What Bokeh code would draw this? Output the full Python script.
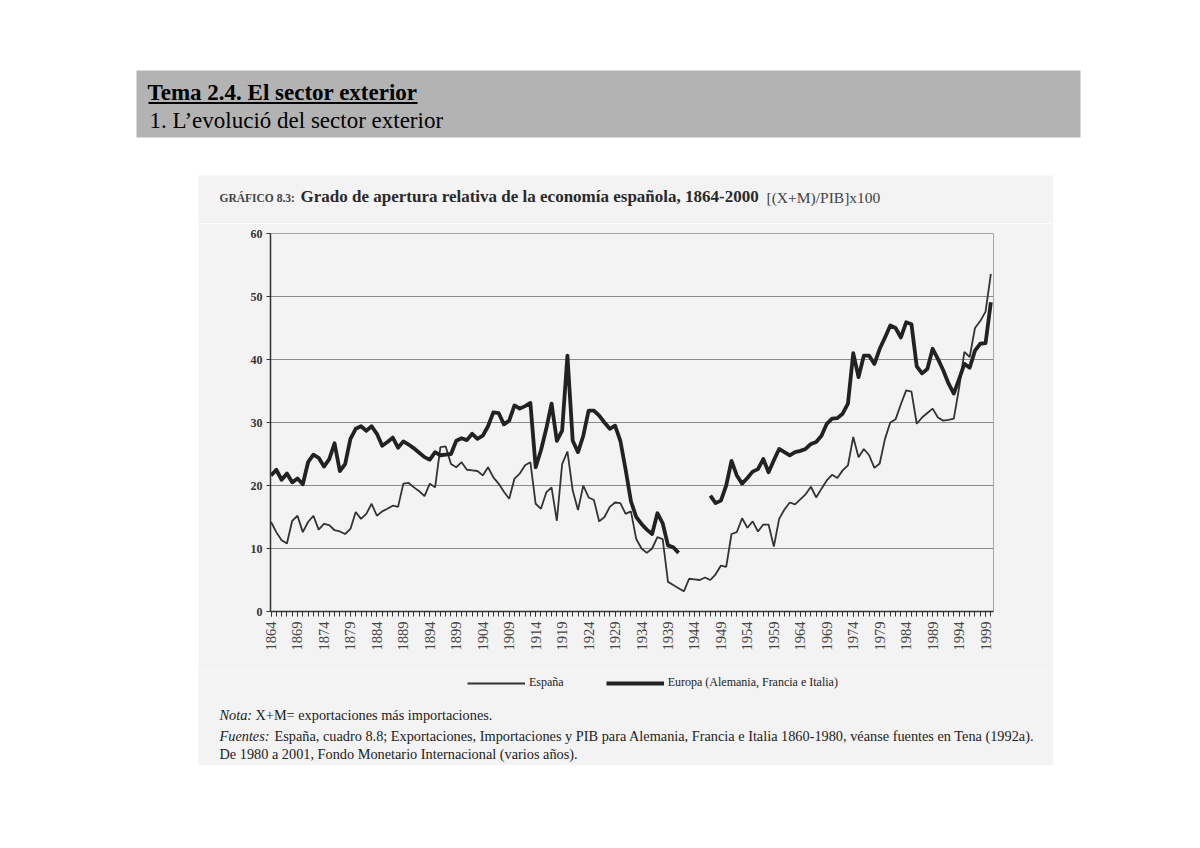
import math
from bokeh.plotting import figure
from bokeh.layouts import column, row
from bokeh.models import (Range1d, FixedTicker, Label, BoxAnnotation, Legend,
                          LegendItem, ColumnDataSource, Spacer)
from bokeh.embed import file_html
from bokeh.resources import INLINE

# ---------------- data ----------------
years = list(range(1864, 2001))

espana = [
    14.2, 12.6, 11.3, 10.8, 14.4, 15.2, 12.6, 14.2, 15.2, 13.0,   # 1864-1873
    13.9, 13.7, 12.9, 12.7, 12.3, 13.1, 15.8, 14.7, 15.5, 17.1,   # 1874-1883
    15.2, 15.9, 16.3, 16.8, 16.6, 20.3, 20.4, 19.7, 19.1, 18.3,   # 1884-1893
    20.3, 19.7, 26.1, 26.2, 23.4, 22.9, 23.7, 22.5, 22.4, 22.3,   # 1894-1903
    21.6, 22.9, 21.3, 20.3, 19.0, 17.9, 21.1, 21.9, 23.2, 23.7,   # 1904-1913
    17.1, 16.3, 18.9, 19.7, 14.4, 23.4, 25.4, 19.2, 16.1, 20.0,   # 1914-1923
    18.1, 17.7, 14.3, 15.0, 16.6, 17.3, 17.2, 15.5, 15.9, 11.5,   # 1924-1933
    10.0, 9.3, 10.0, 11.8, 11.5, 4.7, 4.2, 3.7, 3.2, 5.2,         # 1934-1943
    5.1, 5.0, 5.4, 5.0, 5.9, 7.3, 7.1, 12.3, 12.6, 14.8,          # 1944-1953
    13.3, 14.3, 12.7, 13.8, 13.8, 10.3, 14.7, 16.2, 17.3, 17.0,   # 1954-1963
    17.8, 18.6, 19.8, 18.1, 19.5, 20.8, 21.7, 21.2, 22.4, 23.2,   # 1964-1973
    27.7, 24.5, 25.8, 24.8, 22.8, 23.5, 27.4, 30.0, 30.5, 32.9,   # 1974-1983
    35.1, 34.9, 29.8, 30.8, 31.5, 32.2, 30.8, 30.3, 30.4, 30.6,   # 1984-1993
    35.5, 41.2, 40.4, 45.0, 46.1, 47.6, 53.6,                     # 1994-2000
]

nan = float("nan")
europa = [
    21.6, 22.5, 20.9, 21.9, 20.5, 21.1, 20.2, 23.7, 24.9, 24.4,   # 1864-1873
    23.0, 24.2, 26.7, 22.3, 23.4, 27.4, 29.0, 29.4, 28.7, 29.4,   # 1874-1883
    28.2, 26.3, 26.9, 27.6, 26.0, 27.0, 26.5, 25.9, 25.2, 24.5,   # 1884-1893
    24.1, 25.3, 24.8, 24.9, 25.0, 27.1, 27.5, 27.2, 28.2, 27.4,   # 1894-1903
    27.9, 29.4, 31.6, 31.5, 29.7, 30.3, 32.7, 32.2, 32.6, 33.1,   # 1904-1913
    22.9, 25.6, 29.0, 33.0, 27.1, 28.7, 40.6, 27.1, 25.3, 27.9,   # 1914-1923
    31.9, 31.9, 31.1, 30.0, 29.0, 29.5, 27.1, 22.5, 17.5, 15.0,   # 1924-1933
    13.9, 13.0, 12.3, 15.6, 14.0, 10.5, 10.2, 9.3, nan, nan,      # 1934-1943
    nan, nan, nan, 18.4, 17.2, 17.6, 20.0, 23.9, 21.6, 20.3,      # 1944-1953
    21.2, 22.2, 22.6, 24.2, 22.1, 24.0, 25.8, 25.3, 24.8, 25.3,   # 1954-1963
    25.5, 25.8, 26.6, 26.9, 27.9, 29.8, 30.6, 30.7, 31.4, 33.0,   # 1964-1973
    41.0, 37.2, 40.6, 40.6, 39.3, 41.7, 43.5, 45.4, 45.0, 43.5,   # 1974-1983
    45.9, 45.6, 38.9, 37.8, 38.5, 41.7, 40.1, 38.3, 36.2, 34.6,   # 1984-1993
    36.9, 39.3, 38.7, 41.4, 42.5, 42.6, 49.1,                     # 1994-2000
]

tick_years = list(range(1864, 2000, 5))
y_ticks = [0, 10, 20, 30, 40, 50, 60]
series_names = ["España", "Europa (Alemania, Francia e Italia)"]

SERIF = "Liberation Serif"
GRAY_BG = "#f3f3f3"
PAGE_W = 1184
SCAN_L, SCAN_R = 198, 1053          # scanned chart region (page px)
SCAN_W = SCAN_R - SCAN_L
STYLE_ES = dict(line_color="#333333", line_width=1.8)
STYLE_EU = dict(line_color="#222222", line_width=3.8, line_join="round")


def text_fig(x0, x1, y0, y1, bg):
    """A figure whose frame covers the whole canvas, in page pixel units (y down)."""
    f = figure(width=x1 - x0, height=y1 - y0,
               x_range=Range1d(x0, x1), y_range=Range1d(y1, y0),
               x_axis_location=None, y_axis_location=None,
               output_backend="svg", toolbar_location=None,
               min_border_left=0, min_border_right=0,
               min_border_top=0, min_border_bottom=0,
               background_fill_color=bg, border_fill_color=bg,
               outline_line_color=None)
    f.xgrid.visible = False
    f.ygrid.visible = False
    return f


def txt(f, x, y, s, size, style="normal", color="#222222"):
    f.add_layout(Label(x=x, y=y, text=s, text_font=SERIF, text_font_size=size,
                       text_font_style=style, text_color=color,
                       text_baseline="middle", text_align="left"))


# ---------------- header ----------------
head = text_fig(0, PAGE_W, 0, 175, "white")
head.add_layout(BoxAnnotation(left=136, right=1080, top=70, bottom=137,
                              fill_color="#b3b3b3", fill_alpha=1.0,
                              line_alpha=0, level="underlay"))
head.add_layout(BoxAnnotation(left=148, right=417, top=101.5, bottom=103.5,
                              fill_color="#000000", fill_alpha=1.0,
                              line_alpha=0, level="underlay"))
txt(head, 147, 92, "Tema 2.4. El sector exterior", "23px", "bold", "#000000")
txt(head, 149, 120, "1. L\u2019evolució del sector exterior", "23px", "normal", "#000000")

# ---------------- chart title ----------------
TT_TOP, TT_BOT = 175, 223
ttl = text_fig(SCAN_L, SCAN_R, TT_TOP, TT_BOT, GRAY_BG)
txt(ttl, 219, 197, "GRÁFICO 8.3:", "11.5px", "bold", "#444444")
txt(ttl, 300, 196, "Grado de apertura relativa de la economía española, 1864-2000", "17px", "bold", "#2a2a2a")
txt(ttl, 766, 197, "[(X+M)/PIB]x100", "15.5px", "normal", "#444444")

# ---------------- chart ----------------
CH_TOP, CH_BOT = TT_BOT, 670
p = figure(width=SCAN_W, height=CH_BOT - CH_TOP,
           x_range=Range1d(1863.9, 2000.5), y_range=Range1d(0, 60),
           output_backend="svg", toolbar_location=None,
           min_border_left=270 - SCAN_L, min_border_right=SCAN_R - 993,
           min_border_top=233 - CH_TOP, min_border_bottom=CH_BOT - 611,
           background_fill_color=GRAY_BG, border_fill_color=GRAY_BG,
           outline_line_color="#a8a8a8", outline_line_width=1)

src = ColumnDataSource(dict(year=years, espana=espana, europa=europa))
r_es = p.line("year", "espana", source=src, **STYLE_ES)
r_eu = p.line("year", "europa", source=src, **STYLE_EU)

p.yaxis.ticker = FixedTicker(ticks=y_ticks)
p.yaxis.major_label_text_font = SERIF
p.yaxis.major_label_text_font_style = "bold"
p.yaxis.major_label_text_font_size = "12px"
p.yaxis.major_label_text_color = "#333333"
p.yaxis.major_tick_out = 4
p.yaxis.major_tick_in = 0
p.yaxis.minor_tick_out = 0
p.yaxis.minor_tick_in = 0
p.yaxis.axis_line_color = "#333333"
p.yaxis.axis_line_width = 1.5
p.yaxis.major_tick_line_color = "#333333"
p.yaxis.major_label_standoff = 4

p.xaxis.ticker = FixedTicker(ticks=tick_years, minor_ticks=years)
p.xaxis.major_label_orientation = math.pi / 2
p.xaxis.major_label_text_font = SERIF
p.xaxis.major_label_text_font_size = "14.5px"
p.xaxis.major_label_text_color = "#444444"
p.xaxis.major_tick_out = 5
p.xaxis.major_tick_in = 0
p.xaxis.minor_tick_out = 5
p.xaxis.minor_tick_in = 0
p.xaxis.axis_line_color = "#333333"
p.xaxis.axis_line_width = 1.5
p.xaxis.major_tick_line_color = "#333333"
p.xaxis.minor_tick_line_color = "#333333"
p.xaxis.major_label_standoff = 5

p.xgrid.visible = False
p.ygrid.ticker = FixedTicker(ticks=y_ticks)
p.ygrid.grid_line_color = "#8a8a8a"
p.ygrid.grid_line_width = 1

# ---------------- legend + notes ----------------
NT_TOP, NT_BOT = CH_BOT, 765
notes = text_fig(SCAN_L, SCAN_R, NT_TOP, NT_BOT, GRAY_BG)
# legend keys: the same series, drawn with the same styles (they fall outside
# this strip's ranges, so only their legend samples are visible)
k_es = notes.line("year", "espana", source=src, **STYLE_ES)
k_eu = notes.line("year", "europa", source=src, **STYLE_EU)
legend = Legend(items=[LegendItem(label=series_names[0], renderers=[k_es]),
                       LegendItem(label=series_names[1], renderers=[k_eu])],
                location=(467 - SCAN_L, NT_BOT - 690), orientation="horizontal",
                glyph_width=58, glyph_height=12, label_height=12,
                label_standoff=4, spacing=42, padding=0, margin=0,
                background_fill_alpha=0, border_line_alpha=0,
                label_text_font=SERIF, label_text_font_size="12px",
                label_text_color="#222222")
notes.add_layout(legend)

txt(notes, 219, 714, "Nota:", "14.3px", "italic")
txt(notes, 255, 714, "X+M= exportaciones más importaciones.", "14.3px")
txt(notes, 219, 735, "Fuentes:", "14.3px", "italic")
txt(notes, 274, 735, "España, cuadro 8.8; Exportaciones, Importaciones y PIB para Alemania, "
                     "Francia e Italia 1860-1980, véanse fuentes en Tena (1992a).", "14.3px")
txt(notes, 219, 753, "De 1980 a 2001, Fondo Monetario Internacional (varios años).", "14.3px")


def indent(fig, h):
    return row(Spacer(width=SCAN_L, height=h), fig,
               Spacer(width=PAGE_W - SCAN_R, height=h), spacing=0)


page = column(head,
              indent(ttl, TT_BOT - TT_TOP),
              indent(p, CH_BOT - CH_TOP),
              indent(notes, NT_BOT - NT_TOP),
              spacing=0)

open("out.html", "w").write(file_html(page, INLINE))
